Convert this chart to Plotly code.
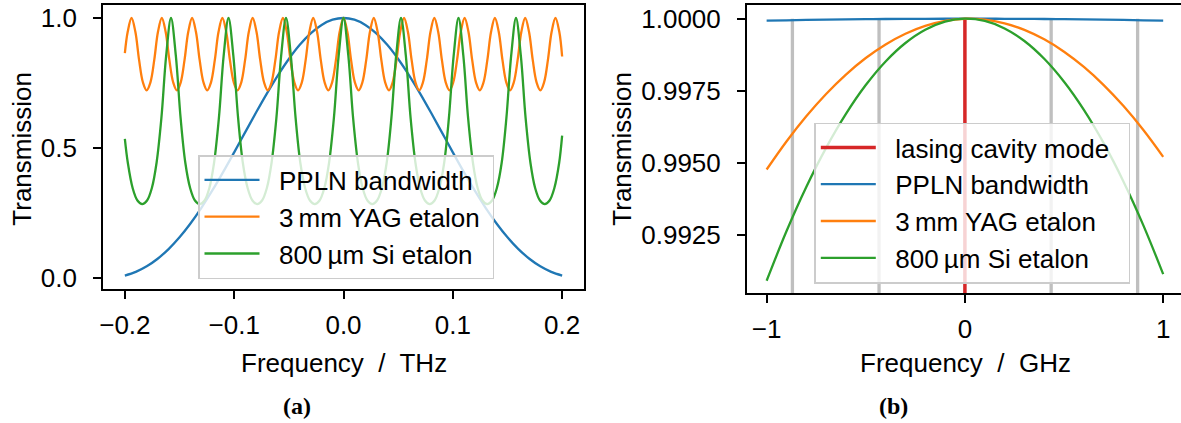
import plotly.graph_objects as go

# ---------------- Panel (a): frequency in THz ----------------
ppln_x_a = [-0.20, -0.19, -0.18, -0.17, -0.16, -0.15, -0.14, -0.13, -0.12, -0.11,
            -0.10, -0.09, -0.08, -0.07, -0.06, -0.05, -0.04, -0.03, -0.02, -0.01,
            0.00, 0.01, 0.02, 0.03, 0.04, 0.05, 0.06, 0.07, 0.08, 0.09,
            0.10, 0.11, 0.12, 0.13, 0.14, 0.15, 0.16, 0.17, 0.18, 0.19, 0.20]
ppln_y_a = [0.0107, 0.0249, 0.0463, 0.0753, 0.1124, 0.1576, 0.2107, 0.2709, 0.3375, 0.4090,
            0.4839, 0.5605, 0.6368, 0.7106, 0.7799, 0.8425, 0.8968, 0.9408, 0.9733, 0.9933,
            1.0000, 0.9933, 0.9733, 0.9408, 0.8968, 0.8425, 0.7799, 0.7106, 0.6368, 0.5605,
            0.4839, 0.4090, 0.3375, 0.2709, 0.2107, 0.1576, 0.1124, 0.0753, 0.0463, 0.0249, 0.0107]

yag_x_a = [-0.2000, -0.1974, -0.1939, -0.1904, -0.1870, -0.1835, -0.1801, -0.1766, -0.1731,
           -0.1697, -0.1662, -0.1627, -0.1593, -0.1558, -0.1524, -0.1489, -0.1454, -0.1420,
           -0.1385, -0.1350, -0.1316, -0.1281, -0.1247, -0.1212, -0.1177, -0.1143, -0.1108,
           -0.1073, -0.1039, -0.1004, -0.0970, -0.0935, -0.0900, -0.0866, -0.0831, -0.0796,
           -0.0762, -0.0727, -0.0693, -0.0658, -0.0623, -0.0589, -0.0554, -0.0519, -0.0485,
           -0.0450, -0.0416, -0.0381, -0.0346, -0.0312, -0.0277, -0.0242, -0.0208, -0.0173,
           -0.0139, -0.0104, -0.0069, -0.0035, 0.0000,
           0.0035, 0.0069, 0.0104, 0.0139, 0.0173, 0.0208, 0.0242, 0.0277,
           0.0312, 0.0346, 0.0381, 0.0416, 0.0450, 0.0485, 0.0519, 0.0554,
           0.0589, 0.0623, 0.0658, 0.0693, 0.0727, 0.0762, 0.0796, 0.0831,
           0.0866, 0.0900, 0.0935, 0.0970, 0.1004, 0.1039, 0.1073, 0.1108,
           0.1143, 0.1177, 0.1212, 0.1247, 0.1281, 0.1316, 0.1350, 0.1385,
           0.1420, 0.1454, 0.1489, 0.1524, 0.1558, 0.1593, 0.1627, 0.1662,
           0.1697, 0.1731, 0.1766, 0.1801, 0.1835, 0.1870, 0.1904, 0.1939,
           0.1974, 0.2000]
yag_y_a = [0.865,
           0.947, 1.000, 0.947, 0.839, 0.753, 0.722, 0.753, 0.839,
           0.947, 1.000, 0.947, 0.839, 0.753, 0.722, 0.753, 0.839,
           0.947, 1.000, 0.947, 0.839, 0.753, 0.722, 0.753, 0.839,
           0.947, 1.000, 0.947, 0.839, 0.753, 0.722, 0.753, 0.839,
           0.947, 1.000, 0.947, 0.839, 0.753, 0.722, 0.753, 0.839,
           0.947, 1.000, 0.947, 0.839, 0.753, 0.722, 0.753, 0.839,
           0.947, 1.000, 0.947, 0.839, 0.753, 0.722, 0.753, 0.839,
           0.947, 1.000,
           0.947, 0.839, 0.753, 0.722, 0.753, 0.839, 0.947, 1.000,
           0.947, 0.839, 0.753, 0.722, 0.753, 0.839, 0.947, 1.000,
           0.947, 0.839, 0.753, 0.722, 0.753, 0.839, 0.947, 1.000,
           0.947, 0.839, 0.753, 0.722, 0.753, 0.839, 0.947, 1.000,
           0.947, 0.839, 0.753, 0.722, 0.753, 0.839, 0.947, 1.000,
           0.947, 0.839, 0.753, 0.722, 0.753, 0.839, 0.947, 1.000,
           0.947, 0.839, 0.753, 0.722, 0.753, 0.839, 0.947, 1.000,
           0.947, 0.852]

si_x_a = [-0.2000, -0.1973, -0.1929, -0.1885, -0.1841, -0.1797, -0.1753, -0.1710, -0.1666,
          -0.1622, -0.1578, -0.1534, -0.1490, -0.1447, -0.1403, -0.1359, -0.1315, -0.1271,
          -0.1227, -0.1184, -0.1140, -0.1096, -0.1052, -0.1008, -0.0964, -0.0921, -0.0877,
          -0.0833, -0.0789, -0.0745, -0.0701, -0.0658, -0.0614, -0.0570, -0.0526, -0.0482,
          -0.0438, -0.0395, -0.0351, -0.0307, -0.0263, -0.0219, -0.0175, -0.0132, -0.0088,
          -0.0044, 0.0000,
          0.0044, 0.0088, 0.0132, 0.0175, 0.0219, 0.0263, 0.0307, 0.0351, 0.0395,
          0.0438, 0.0482, 0.0526, 0.0570, 0.0614, 0.0658, 0.0701, 0.0745, 0.0789,
          0.0833, 0.0877, 0.0921, 0.0964, 0.1008, 0.1052, 0.1096, 0.1140, 0.1184,
          0.1227, 0.1271, 0.1315, 0.1359, 0.1403, 0.1447, 0.1490, 0.1534, 0.1578,
          0.1622, 0.1666, 0.1710, 0.1753, 0.1797, 0.1841, 0.1885, 0.1929, 0.1973,
          0.2000]
si_y_a = [0.536,
          0.444, 0.347, 0.299, 0.285, 0.299, 0.347, 0.444, 0.615, 0.856, 1.000,
          0.856, 0.615, 0.444, 0.347, 0.299, 0.285, 0.299, 0.347, 0.444, 0.615, 0.856, 1.000,
          0.856, 0.615, 0.444, 0.347, 0.299, 0.285, 0.299, 0.347, 0.444, 0.615, 0.856, 1.000,
          0.856, 0.615, 0.444, 0.347, 0.299, 0.285, 0.299, 0.347, 0.444, 0.615, 0.856, 1.000,
          0.856, 0.615, 0.444, 0.347, 0.299, 0.285, 0.299, 0.347, 0.444, 0.615, 0.856, 1.000,
          0.856, 0.615, 0.444, 0.347, 0.299, 0.285, 0.299, 0.347, 0.444, 0.615, 0.856, 1.000,
          0.856, 0.615, 0.444, 0.347, 0.299, 0.285, 0.299, 0.347, 0.444, 0.615, 0.856, 1.000,
          0.856, 0.615, 0.444, 0.347, 0.299, 0.285, 0.299, 0.347, 0.444,
          0.548]

x_ticks_a = [-0.2, -0.1, 0.0, 0.1, 0.2]
x_ticklabels_a = ["\u22120.2", "\u22120.1", "0.0", "0.1", "0.2"]
y_ticks_a = [0.0, 0.5, 1.0]
y_ticklabels_a = ["0.0", "0.5", "1.0"]

# ---------------- Panel (b): frequency in GHz ----------------
freq_b = [-1.0, -0.9, -0.8, -0.7, -0.6, -0.5, -0.4, -0.3, -0.2, -0.1, 0.0,
          0.1, 0.2, 0.3, 0.4, 0.5, 0.6, 0.7, 0.8, 0.9, 1.0]
ppln_y_b = [0.999933, 0.999945, 0.999957, 0.999967, 0.999976, 0.999983, 0.999989,
            0.999994, 0.999997, 0.999999, 1.000000, 0.999999, 0.999997, 0.999994,
            0.999989, 0.999983, 0.999976, 0.999967, 0.999957, 0.999945, 0.999933]
yag_y_b = [0.994778, 0.995750, 0.996622, 0.997394, 0.998066, 0.998638, 0.999110,
           0.999482, 0.999754, 0.999926, 0.999998, 0.999970, 0.999842, 0.999614,
           0.999286, 0.998858, 0.998330, 0.997702, 0.996974, 0.996146, 0.995218]
si_y_b = [0.990925, 0.992639, 0.994174, 0.995529, 0.996705, 0.997702, 0.998520,
          0.999159, 0.999618, 0.999899, 1.000000, 0.999922, 0.999664, 0.999228,
          0.998612, 0.997817, 0.996843, 0.995690, 0.994357, 0.992845, 0.991154]
cavity_modes_b = [-0.870, -0.433, 0.435, 0.871]
lasing_mode_b = 0.0
mode_stem_y = [0.0, 1.0]

x_ticks_b = [-1, 0, 1]
x_ticklabels_b = ["\u22121", "0", "1"]
y_ticks_b = [0.9925, 0.9950, 0.9975, 1.0000]
y_ticklabels_b = ["0.9925", "0.9950", "0.9975", "1.0000"]

names_a = ["PPLN bandwidth", "3\u2009mm YAG etalon", "800\u2009\u00b5m Si etalon"]
name_lasing = "lasing cavity mode"
xtitle_a = "Frequency\u00a0 /\u00a0 THz"
xtitle_b = "Frequency\u00a0 /\u00a0 GHz"
ytitle = "Transmission"

for a, b in [(ppln_x_a, ppln_y_a), (yag_x_a, yag_y_a), (si_x_a, si_y_a),
             (freq_b, ppln_y_b), (freq_b, yag_y_b), (freq_b, si_y_b)]:
    assert len(a) == len(b), (len(a), len(b))

BLUE, ORANGE, GREEN, RED = "#1f77b4", "#ff7f0e", "#2ca02c", "#d62728"
FONT = "Liberation Sans, Arial, sans-serif"
LW = 2.3
W, H = 1181, 423


def px(v):
    return v / W


def py(v):
    return 1 - v / H


def lg(s, right=1):
    # small gap between legend line sample and its text, plus right padding
    return "\u00a0\u00a0" + s + "\u00a0" * right


fig = go.Figure()

# panel (a)
fig.add_trace(go.Scatter(x=ppln_x_a, y=ppln_y_a, mode="lines", name=lg(names_a[0]),
                         line=dict(color=BLUE, width=LW, shape="spline"),
                         xaxis="x", yaxis="y", legend="legend"))
fig.add_trace(go.Scatter(x=yag_x_a, y=yag_y_a, mode="lines", name=lg(names_a[1]),
                         line=dict(color=ORANGE, width=LW, shape="spline"),
                         xaxis="x", yaxis="y", legend="legend"))
fig.add_trace(go.Scatter(x=si_x_a, y=si_y_a, mode="lines", name=lg(names_a[2]),
                         line=dict(color=GREEN, width=LW, shape="spline"),
                         xaxis="x", yaxis="y", legend="legend"))

# panel (b)
for m in cavity_modes_b:
    fig.add_trace(go.Scatter(x=[m, m], y=mode_stem_y, mode="lines", showlegend=False,
                             line=dict(color="rgba(128,128,128,0.5)", width=3.3),
                             hoverinfo="skip", xaxis="x2", yaxis="y2"))
fig.add_trace(go.Scatter(x=[lasing_mode_b, lasing_mode_b], y=mode_stem_y, mode="lines",
                         name=lg(name_lasing, 2), line=dict(color=RED, width=3.5),
                         xaxis="x2", yaxis="y2", legend="legend2"))
fig.add_trace(go.Scatter(x=freq_b, y=ppln_y_b, mode="lines", name=lg(names_a[0]),
                         line=dict(color=BLUE, width=LW, shape="spline"),
                         xaxis="x2", yaxis="y2", legend="legend2"))
fig.add_trace(go.Scatter(x=freq_b, y=yag_y_b, mode="lines", name=lg(names_a[1]),
                         line=dict(color=ORANGE, width=LW, shape="spline"),
                         xaxis="x2", yaxis="y2", legend="legend2"))
fig.add_trace(go.Scatter(x=freq_b, y=si_y_b, mode="lines", name=lg(names_a[2]),
                         line=dict(color=GREEN, width=LW, shape="spline"),
                         xaxis="x2", yaxis="y2", legend="legend2"))

axis_common = dict(showline=True, linecolor="black", linewidth=1.6, ticks="outside",
                   ticklen=8, tickwidth=1.6, tickcolor="black", showgrid=False,
                   zeroline=False, tickfont=dict(family=FONT, size=26, color="black"))

legend_common = dict(bgcolor="rgba(255,255,255,0.8)", bordercolor="#cccccc", borderwidth=1.5,
                     font=dict(family=FONT, size=26, color="black"), xanchor="left",
                     yanchor="top", itemwidth=55, tracegroupgap=0)

fig.update_layout(
    width=W, height=H, margin=dict(l=0, r=0, t=0, b=0, autoexpand=False),
    paper_bgcolor="white", plot_bgcolor="white", showlegend=True,
    font=dict(family=FONT, size=26, color="black"),
    xaxis=dict(domain=[px(103), px(584)], range=[-0.22, 0.22], tickvals=x_ticks_a,
               ticktext=x_ticklabels_a, mirror=True, anchor="y", ticklabelstandoff=4,
               **axis_common),
    yaxis=dict(domain=[py(289), py(4.7)], range=[-0.041, 1.051], tickvals=y_ticks_a,
               ticktext=y_ticklabels_a, mirror=True, anchor="x", ticklabelstandoff=11,
               **axis_common),
    xaxis2=dict(domain=[px(746.8), 1.0], range=[-1.1, 1.0898], tickvals=x_ticks_b,
                ticktext=x_ticklabels_b, mirror=True, anchor="y2", ticklabelstandoff=4,
                **axis_common),
    yaxis2=dict(domain=[py(293.3), py(4.7)], range=[0.990492, 1.000485], tickvals=y_ticks_b,
                ticktext=y_ticklabels_b, mirror=False, anchor="x2", ticklabelstandoff=11,
                **axis_common),
    legend=dict(x=px(198), y=py(155), **legend_common),
    legend2=dict(x=px(814.3), y=py(122.5), **legend_common),
)

title_font = dict(family=FONT, size=26, color="black")
annots = [
    dict(text=xtitle_a, x=px(343.5), y=py(363), xanchor="center", yanchor="middle",
         font=title_font),
    dict(text=xtitle_b, x=px(965), y=py(363), xanchor="center", yanchor="middle",
         font=title_font),
    dict(text=ytitle, x=px(21.7), y=py(149), xanchor="center", yanchor="middle",
         textangle=-90, font=title_font),
    dict(text=ytitle, x=px(621.7), y=py(149), xanchor="center", yanchor="middle",
         textangle=-90, font=title_font),
    dict(text="<b>(a)</b>", x=px(297), y=py(406), xanchor="center", yanchor="middle",
         font=dict(family="Liberation Serif, Times New Roman, serif", size=24, color="black")),
    dict(text="<b>(b)</b>", x=px(893), y=py(406), xanchor="center", yanchor="middle",
         font=dict(family="Liberation Serif, Times New Roman, serif", size=24, color="black")),
]
for a in annots:
    fig.add_annotation(xref="paper", yref="paper", showarrow=False, **a)

# the page's default 8px body margin would shift the whole figure
fig.write_html("out.html",
               config={"displayModeBar": False},
               post_script="document.body.style.margin='0px';"
                           "document.body.style.overflow='hidden';")
